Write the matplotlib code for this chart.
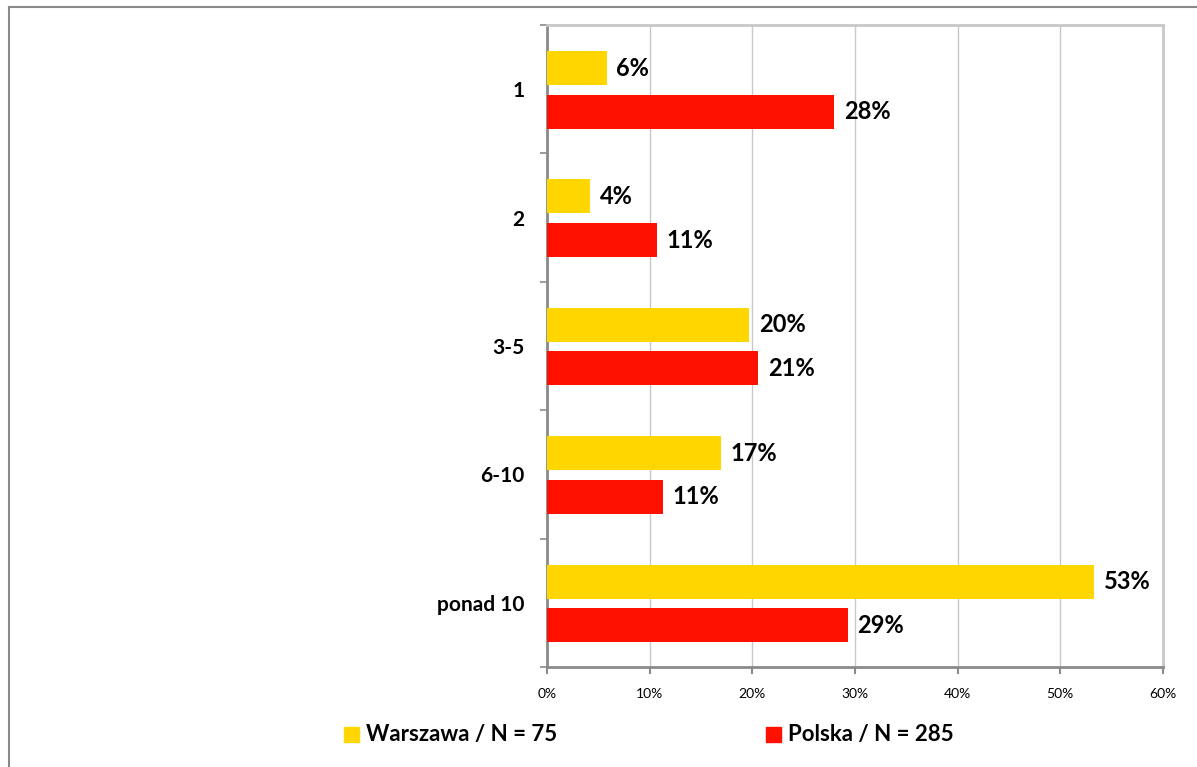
import matplotlib.pyplot as plt
from matplotlib.lines import Line2D
from matplotlib.patches import Rectangle
import numpy as np

# Dane
kategorie = ['1', '2', '3-5', '6-10', 'ponad 10']
warszawa = [5.8, 4.2, 19.7, 16.9, 53.3]
polska = [28.0, 10.7, 20.6, 11.3, 29.3]
etykiety_w = ['6%', '4%', '20%', '17%', '53%']
etykiety_p = ['28%', '11%', '21%', '11%', '29%']
seria = ['Warszawa / N = 75', 'Polska / N = 285']

zolty = '#FFD600'
czerwony = '#FF1100'

plt.rcParams['font.family'] = ['Lato', 'DejaVu Sans']

W, H = 1197, 767
fig = plt.figure(figsize=(W / 100, H / 100), dpi=100)

# ramka zewnetrzna
fig.add_artist(Line2D([9 / W, 9 / W], [0, 1 - 7 / H], color='#8a8a8a', lw=1.5))
fig.add_artist(Line2D([9 / W, 1], [1 - 7 / H, 1 - 7 / H], color='#8a8a8a', lw=1.5))

ax = fig.add_axes([547 / W, 1 - 667 / H, (1163 - 547) / W, (667 - 25) / H])

y = np.arange(len(kategorie))
h = 0.265
ax.barh(y - 0.165, warszawa, height=h, color=zolty, zorder=3)
ax.barh(y + 0.175, polska, height=h, color=czerwony, zorder=3)

for i in range(len(kategorie)):
    ax.annotate(etykiety_w[i], (warszawa[i], y[i] - 0.165), xytext=(7, 0),
                textcoords='offset points', va='center', ha='left',
                fontsize=17, fontweight='bold')
    ax.annotate(etykiety_p[i], (polska[i], y[i] + 0.175), xytext=(7, 0),
                textcoords='offset points', va='center', ha='left',
                fontsize=17, fontweight='bold')

ax.set_xlim(0, 60)
ax.set_ylim(4.5, -0.5)
ax.set_xticks(np.arange(0, 61, 10))
ax.set_xticklabels([f'{v}%' for v in range(0, 61, 10)], fontsize=10)
ax.tick_params(axis='x', length=5, width=1.5, color='#8a8a8a', pad=10)

ax.set_yticks(np.arange(-0.5, 4.6, 1.0))
ax.set_yticklabels([])
ax.set_yticks(y, minor=True)
ax.set_yticklabels(kategorie, minor=True, fontsize=15, fontweight='bold')
ax.tick_params(axis='y', which='major', length=5, width=1.2, color='#8a8a8a')
ax.tick_params(axis='y', which='minor', length=0, pad=16)

ax.grid(axis='x', color='#c8c8c8', lw=1, zorder=0)
ax.spines['left'].set_color('#8a8a8a')
ax.spines['left'].set_linewidth(2)
ax.spines['bottom'].set_color('#8a8a8a')
ax.spines['bottom'].set_linewidth(2)
ax.spines['top'].set_color('#c8c8c8')
ax.spines['top'].set_linewidth(2)
ax.spines['right'].set_color('#c8c8c8')
ax.spines['right'].set_linewidth(2)

# legenda
for kolor, tekst, x0 in [(zolty, seria[0], 344), (czerwony, seria[1], 766)]:
    fig.add_artist(Rectangle((x0 / W, 1 - 742 / H), 15 / W, 15 / H,
                             transform=fig.transFigure, color=kolor))
    fig.text((x0 + 22) / W, 1 - 734 / H, tekst, fontsize=16,
             fontweight='bold', va='center', ha='left')

fig.savefig('out.png', dpi=100)
